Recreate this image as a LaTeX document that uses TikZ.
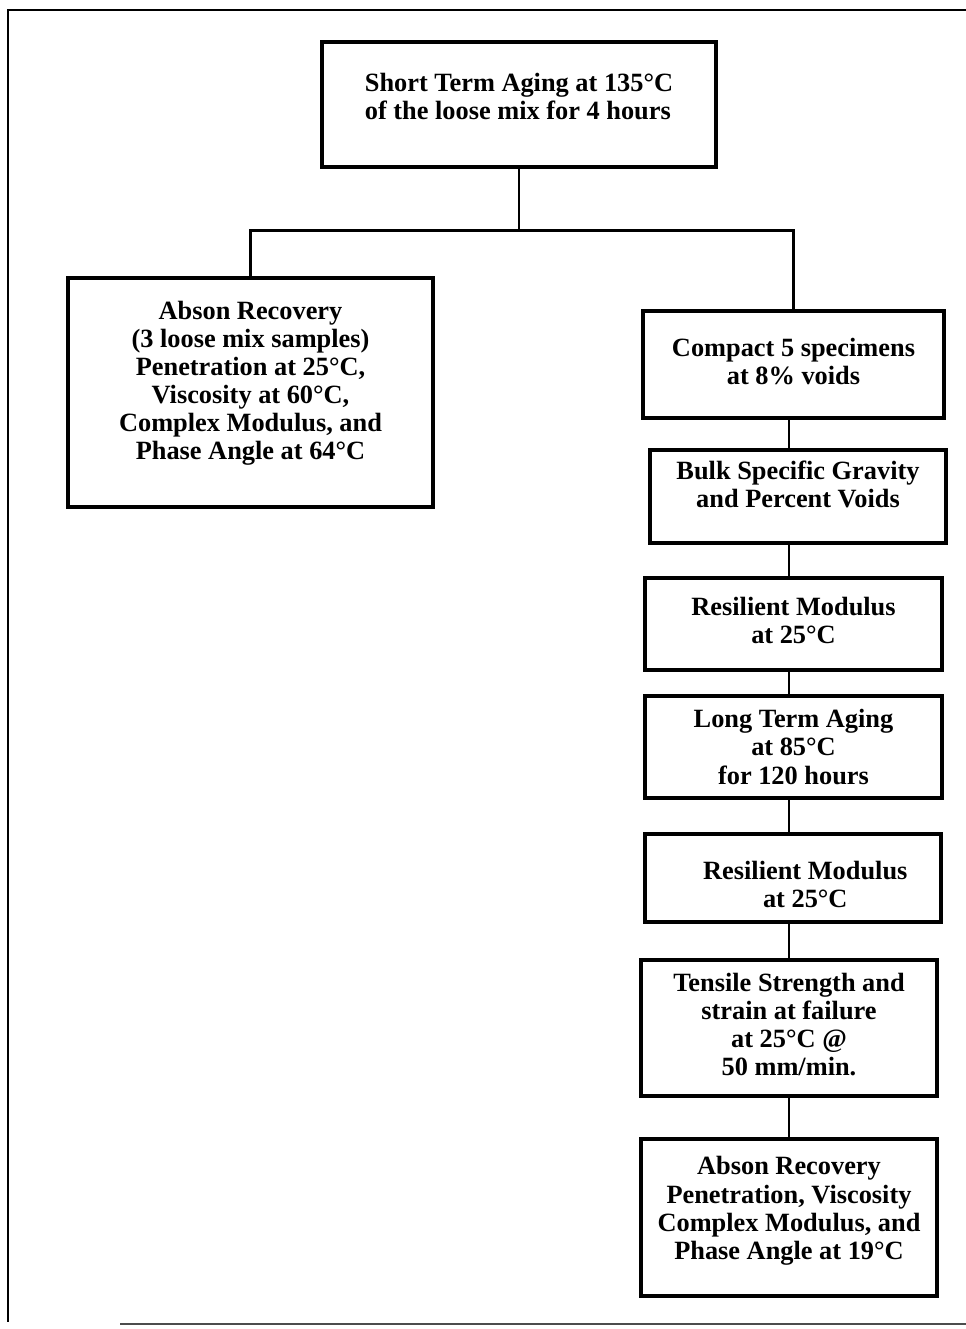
\documentclass[tikz,border=0pt]{standalone}
\usepackage{fontspec}
\setmainfont{Liberation Serif}
% text block moved up (#2>0) or down (#2<0) inside its box
\newcommand{\lifted}[3][c]{\raisebox{0pt}[\dimexpr\height-#2\relax][\dimexpr\depth+#2\relax]{%
  \begin{tabular}{@{}#1@{}}#3\end{tabular}}}
\begin{document}
\begin{tikzpicture}[x=0.02cm,y=-0.02cm,
  stage/.style={draw,line width=1.8pt,inner sep=0pt,
    font=\bfseries\fontsize{15}{16}\selectfont},
  link/.style={line width=1.5pt}]
\useasboundingbox (0,0) rectangle (966,1329);
%frame
\draw[line width=1.5pt] (966,10)--(8,10)--(8,1322);
\draw[line width=1.2pt,black!70] (120,1324)--(966,1324);
%top and left
\node[stage,minimum width=7.88cm,minimum height=2.5cm] (short) at (519,104.5)
  {\lifted[l]{2.7pt}{Short Term Aging at 135°C\\of the loose mix for 4 hours}};
\node[stage,minimum width=7.3cm,minimum height=4.58cm] (absona) at (250.5,392.5)
  {\lifted{5pt}{Abson Recovery\\(3 loose mix samples)\\Penetration at 25°C,\\Viscosity at 60°C,\\Complex Modulus, and\\Phase Angle at 64°C}};
%right column
\node[stage,minimum width=6.02cm,minimum height=2.14cm] (compact) at (793.5,364.5)
  {\lifted{0pt}{Compact 5 specimens\\at 8\% voids}};
\node[stage,minimum width=5.92cm,minimum height=1.86cm] (bulk) at (798,496.5)
  {\lifted{4.9pt}{Bulk Specific Gravity\\and Percent Voids}};
\node[stage,minimum width=5.94cm,minimum height=1.84cm] (resa) at (793.5,624)
  {\lifted{0pt}{Resilient Modulus\\at 25°C}};
\node[stage,minimum width=5.94cm,minimum height=2.04cm] (long) at (793.5,747)
  {\lifted{-1.9pt}{Long Term Aging\\at 85°C\\for 120 hours}};
\node[stage,minimum width=5.92cm,minimum height=1.76cm] (resb) at (793,878)
  {\lifted{-5.8pt}{\hspace*{14pt}Resilient Modulus\\\hspace*{14pt}at 25°C}};
\node[stage,minimum width=5.92cm,minimum height=2.72cm] (tensile) at (789,1028)
  {\lifted{0pt}{Tensile Strength and\\strain at failure\\at 25°C @\\50 mm/min.}};
\node[stage,minimum width=5.92cm,minimum height=3.14cm] (absonb) at (789,1217.5)
  {\lifted{3.4pt}{Abson Recovery\\Penetration, Viscosity\\Complex Modulus, and\\Phase Angle at 19°C}};
%lines
\coordinate (spine) at (789,0);
\draw[link] (short.south)--++(0,62) coordinate (split);
\draw[link] (absona.north) |- (split) -| (compact.north);
\foreach \a/\b in {compact/bulk,bulk/resa,resa/long,long/resb,resb/tensile,tensile/absonb}
  \draw[link] (\a.south -| spine)--(\b.north -| spine);
\end{tikzpicture}
\end{document}
